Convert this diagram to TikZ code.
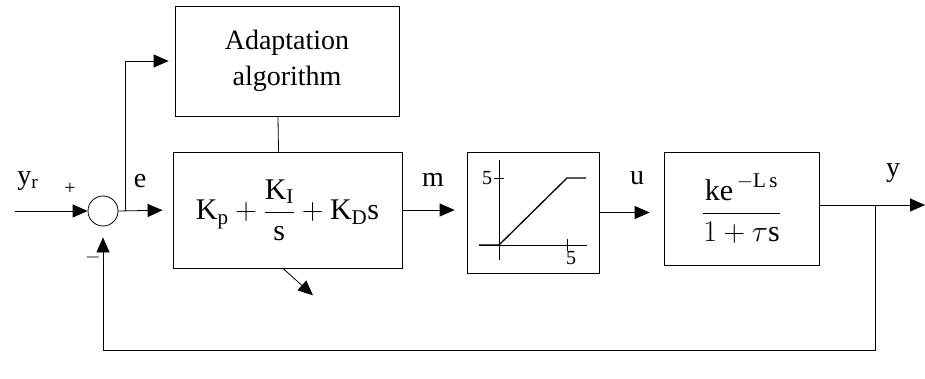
\documentclass[tikz,border=0pt]{standalone}
\usepackage{fix-cm}
\usepackage{amsmath}
\usepackage{fontspec}
\setmainfont{Liberation Serif}
\usetikzlibrary{arrows.meta,calc}
\begin{document}
\begin{tikzpicture}[x=1pt,y=-1pt,
  blk/.style={draw, line width=0.8pt, inner sep=0pt},
  conn/.style={line width=0.8pt, -{Triangle[length=15pt,width=13pt]}},
  wire/.style={line width=0.8pt},
  lbl/.style={inner sep=0pt, font=\fontsize{28}{30}\selectfont},
  small/.style={inner sep=0pt, font=\fontsize{20}{22}\selectfont}]
\useasboundingbox (0,0) rectangle (925,379);
% blocks
\node[blk, minimum width=224pt, minimum height=110pt, align=center,
  font=\fontsize{28}{36}\selectfont] (adapt) at (287,61) {Adaptation\\algorithm};
\node[blk, minimum width=229pt, minimum height=116pt,
  font=\fontsize{30}{32}\selectfont] (pid) at (287.5,210)
  {$\text{K}_{\text{p}}+\dfrac{\text{K}_{\text{I}}}{\text{s}}+\text{K}_{\text{D}}\text{s}$};
\node[blk, minimum width=132pt, minimum height=121pt] (sat) at (533,212.5) {};
\node[blk, minimum width=155pt, minimum height=113pt,
  font=\fontsize{30}{32}\selectfont] (plant) at (741.5,208.5)
  {$\dfrac{\text{ke}^{\,-\text{L\,s}}}{1+\tau\text{s}}$};
\node[draw, circle, line width=0.8pt, minimum size=30pt, inner sep=0pt] (sum) at (103,211) {};
% coordinates
\coordinate (in) at (15,211);
\coordinate (br) at (125,211);
\coordinate (out) at (925,205);
\coordinate (tap) at (875,205);
\coordinate (bot) at (875,350);
% connectors
\draw[conn] (in) -- (sum.west);
\draw[conn, shorten >=10pt] (sum.east) -- (pid.west);
\draw[conn, shorten >=6pt] (br) |- (adapt.west);
\draw[wire] ([xshift=-9pt]adapt.south) -- ([xshift=-9pt]pid.north);
\draw[conn, shorten >=12pt] (pid.east) -- (pid.east -| sat.west);
\draw[conn, shorten >=14pt] (sat.east) -- (sat.east -| plant.west);
\draw[conn] (plant.east |- out) -- (out);
\draw[conn, shorten >=11pt] (tap) -- (bot) -| (sum.south);
\draw[conn] ([xshift=-4.5pt]pid.south) -- ++(30,27);
% labels
\node[lbl] (yr) at (28,181) {y\textsubscript{r}};
\node[small] (plus) at (70,189) {+};
\node[small] (minus) at (93,257) {$-$};
\node[lbl] (e) at (140,181) {e};
\node[lbl] (m) at (433,180) {m};
\node[lbl] (u) at (637,178) {u};
\node[lbl] (y) at (893,173) {y};
% saturation characteristic
\draw[wire, line width=0.6pt] (499,160) -- (499,260);
\draw[wire, line width=0.6pt] (479,245) -- (587,245);
\draw[wire, line width=0.6pt] (494,178) -- (504,178);
\draw[wire, line width=0.6pt] (567,239) -- (567,251);
\draw[line width=1.3pt] (479,245) -- (499,245) -- (567,178) -- (586,178);
\node[small] (s5y) at (487,178) {5};
\node[small] (s5x) at (571,258) {5};
\end{tikzpicture}
\end{document}
